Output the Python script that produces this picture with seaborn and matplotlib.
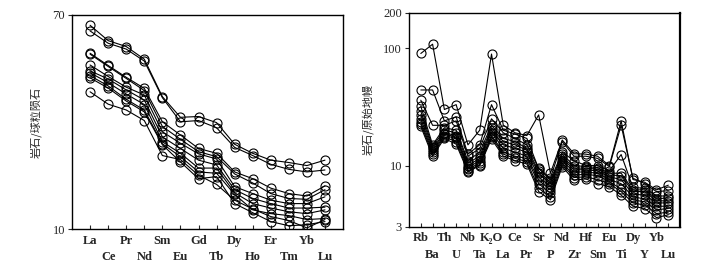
import pandas as pd
import matplotlib.pyplot as plt
import seaborn as sns

# 稀土元素（球粒陨石标准化）
ree = ['La', 'Ce', 'Pr', 'Nd', 'Sm', 'Eu', 'Gd', 'Tb', 'Dy', 'Ho', 'Er', 'Tm', 'Yb', 'Lu']
ree_1 = [63.7, 55.4, 52.5, 46.8, 33.3, 27.6, 27.8, 26.3, 21.6, 19.9, 18.7, 18.3, 17.8, 18.7]
ree_2 = [60.5, 54.1, 51.3, 46.0, 33.0, 26.5, 26.8, 25.1, 21.0, 19.5, 18.0, 17.2, 16.8, 17.1]
ree_3 = [49.4, 44.2, 39.7, 35.9, 26.5, 23.5, 20.8, 19.9, 16.8, 15.8, 14.5, 13.8, 13.5, 14.8]
ree_4 = [49.0, 43.8, 39.3, 35.2, 25.4, 22.6, 20.2, 19.3, 16.5, 15.2, 13.8, 13.2, 13.1, 14.3]
ree_5 = [44.4, 40.0, 36.3, 33.8, 24.2, 21.8, 19.8, 18.9, 14.7, 13.8, 13.0, 12.6, 12.6, 13.4]
ree_6 = [42.1, 39.1, 35.4, 32.3, 23.1, 20.8, 18.7, 17.9, 14.3, 13.2, 12.6, 12.1, 12.1, 12.2]
ree_7 = [41.4, 37.8, 34.1, 31.0, 22.1, 19.9, 17.4, 17.4, 13.9, 12.6, 12.1, 11.7, 11.5, 11.9]
ree_8 = [40.3, 36.7, 32.5, 29.5, 21.7, 19.3, 16.8, 16.6, 13.7, 11.9, 11.5, 11.3, 10.9, 11.0]
ree_9 = [39.5, 36.0, 32.0, 29.0, 21.5, 18.4, 15.8, 16.1, 12.6, 11.6, 10.7, 10.3, 10.4, 10.7]
ree_10 = [34.8, 31.1, 29.5, 26.8, 19.5, 18.8, 16.3, 15.0, 13.0, 12.0, 11.2, 10.8, 10.1, 10.9]

# 微量元素（原始地幔标准化）
spider = ['Rb', 'Ba', 'Th', 'U', 'Nb', 'Ta', 'K₂O', 'La', 'Ce', 'Pr', 'Sr',
          'P', 'Nd', 'Zr', 'Hf', 'Sm', 'Eu', 'Ti', 'Dy', 'Y', 'Yb', 'Lu']
pm_1 = [90, 108, 30, 33, 15, 20, 89, 22, 19, 18, 27, 8.6, 16.5, 12.6, 12.5, 12, 10, 24, 7.6, 7.2, 6.2, 6.8]
pm_2 = [44, 44, 24, 26, 12.5, 15, 33, 20, 18.5, 17, 9.4, 7.8, 16, 12, 12, 11.5, 9.8, 22, 7.8, 7.0, 6.0, 6.1]
pm_3 = [36, 22, 22, 24, 12, 14, 25, 19, 17, 15, 9.5, 7.5, 13, 11, 10, 10, 9, 12.4, 6.5, 6.4, 5.5, 5.5]
pm_4 = [32, 15, 21, 20, 11, 13, 22, 17, 16, 14, 9, 7.2, 12.5, 10, 9.8, 9.6, 8.6, 8.6, 6.2, 6.2, 5.2, 5.3]
pm_5 = [29, 14.5, 20, 19, 10.5, 12, 21, 16, 15, 13.5, 8.6, 7, 12, 9.5, 9.5, 9.3, 8.3, 8.2, 6, 6, 5, 5.0]
pm_6 = [27, 14, 19, 18, 10, 11.5, 20, 15, 14, 13, 8, 6.6, 11.5, 9.2, 9.2, 9, 8, 7.6, 5.7, 5.6, 4.8, 4.8]
pm_7 = [25, 13.5, 18.5, 17.5, 9.6, 11, 19, 14, 13, 12, 7.5, 6.2, 11, 8.8, 8.8, 8.6, 7.6, 7, 5.4, 5.2, 4.5, 4.5]
pm_8 = [23.5, 13, 18, 17, 9.3, 10.5, 18, 13, 12, 11.5, 7, 5.8, 10.5, 8.3, 8.4, 8.2, 7.3, 6.3, 5.1, 4.9, 4.2, 4.3]
pm_9 = [22.5, 12.5, 17.5, 16, 9, 10.2, 17.5, 12.5, 11.5, 10.8, 6.4, 5.4, 10.2, 7.9, 8.0, 7.6, 7.0, 6.0, 4.8, 4.6, 3.9, 4.0]
pm_10 = [21.5, 12, 17, 15.2, 8.8, 10, 16.8, 12, 11, 10.3, 6.0, 5.1, 9.8, 7.5, 7.7, 7.0, 6.6, 5.6, 4.5, 4.3, 3.6, 3.8]

ree_samples = [ree_1, ree_2, ree_3, ree_4, ree_5, ree_6, ree_7, ree_8, ree_9, ree_10]
pm_samples = [pm_1, pm_2, pm_3, pm_4, pm_5, pm_6, pm_7, pm_8, pm_9, pm_10]


def to_long(samples):
    rows = []
    for s, vals in enumerate(samples):
        for i, v in enumerate(vals):
            rows.append({'sample': s, 'pos': i, 'value': v})
    return pd.DataFrame(rows)


sns.set_style('ticks')
plt.rcParams['font.family'] = ['Liberation Serif', 'DejaVu Serif']
cjk = ['Noto Sans CJK SC', 'DejaVu Sans']

fig = plt.figure(figsize=(7.04, 2.66), dpi=100)
ax1 = fig.add_axes([0.1023, 0.139, 0.385, 0.805])
ax2 = fig.add_axes([0.581, 0.147, 0.385, 0.805])

line_kws = dict(color='k', marker='o', markersize=6.5, mfc='none', mec='k',
                mew=0.8, linewidth=0.8, estimator=None, legend=False)

sns.lineplot(data=to_long(ree_samples), x='pos', y='value', units='sample',
             ax=ax1, **line_kws)
sns.lineplot(data=to_long(pm_samples), x='pos', y='value', units='sample',
             ax=ax2, **line_kws)


def style_axis(ax, names, ylim, yticks, ylabel, labelpad):
    ax.set_yscale('log')
    ax.set_ylim(*ylim)
    ax.set_xlim(-1, len(names))
    ax.set_yticks(yticks)
    ax.set_yticklabels([str(t) for t in yticks], fontsize=9)
    ax.yaxis.set_minor_locator(plt.NullLocator())
    # 上下两行交错标注
    even = list(range(0, len(names), 2))
    odd = list(range(1, len(names), 2))
    ax.set_xticks(even)
    ax.set_xticklabels([names[i] for i in even], fontsize=9, fontweight='bold')
    ax.set_xticks(odd, minor=True)
    ax.set_xticklabels([names[i] for i in odd], minor=True, fontsize=9, fontweight='bold')
    ax.tick_params(axis='x', which='major', direction='in', length=3, width=0.8, pad=4)
    ax.tick_params(axis='x', which='minor', direction='in', length=3, width=0.8, pad=16)
    ax.tick_params(axis='y', direction='out', length=3, width=0.8, pad=2)
    ax.set_xlabel('')
    ax.set_ylabel(ylabel, family=cjk, fontsize=8, labelpad=labelpad)
    for sp in ax.spines.values():
        sp.set_visible(True)
        sp.set_linewidth(1.0)
        sp.set_color('k')


style_axis(ax1, ree, (10, 70), [10, 70], '岩石/球粒陨石', 8)
style_axis(ax2, spider, (3, 200), [3, 10, 100, 200], '岩石/原始地幔', 7)
ax2.spines['right'].set_linewidth(1.6)

plt.savefig('out.png', dpi=100)
